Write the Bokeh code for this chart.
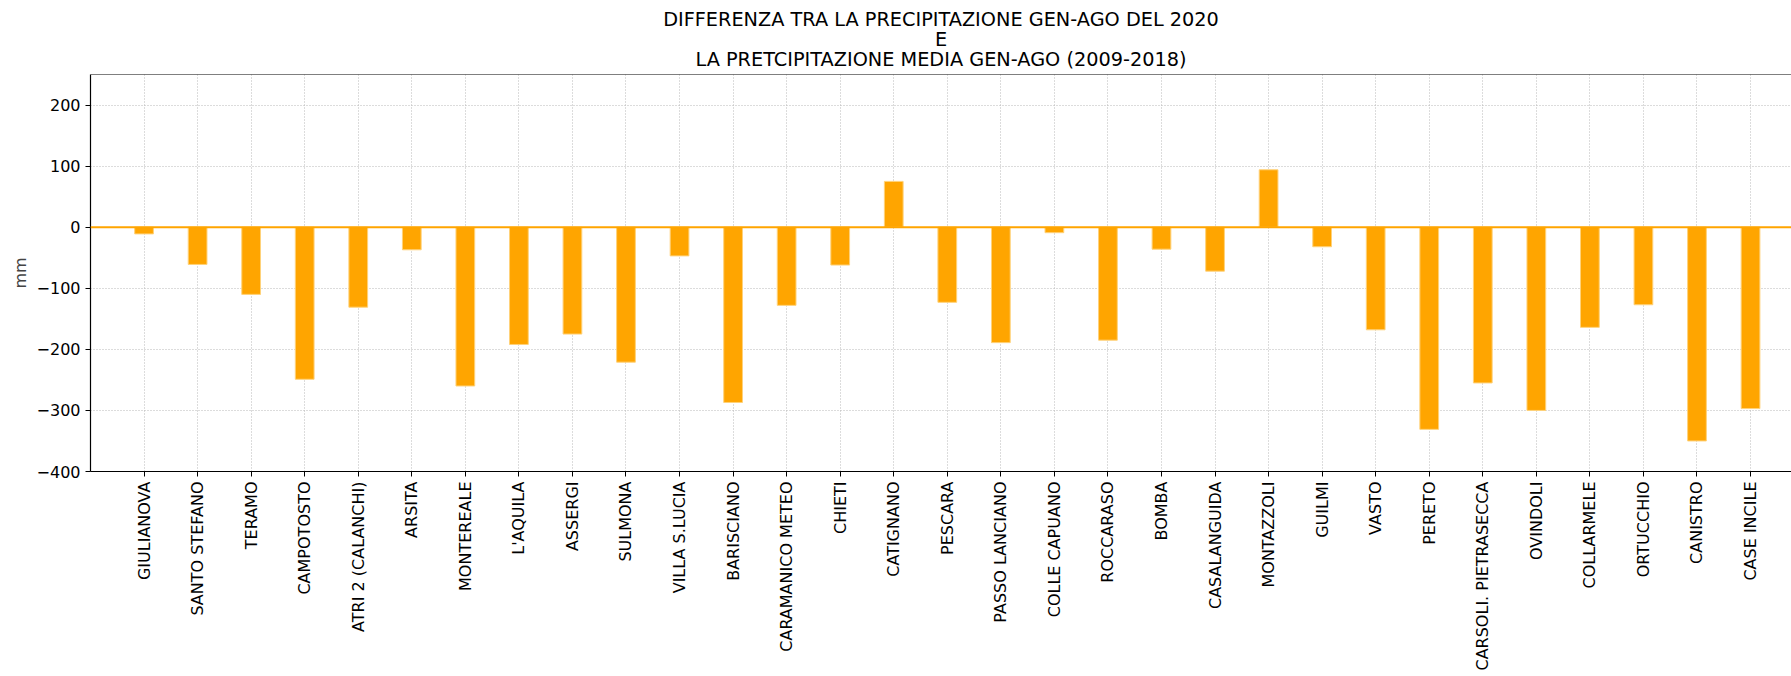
import math
from bokeh.plotting import figure
from bokeh.models import Span, FixedTicker, Range1d, Title
from bokeh.embed import file_html
from bokeh.resources import INLINE

stations = ["GIULIANOVA", "SANTO STEFANO", "TERAMO", "CAMPOTOSTO", "ATRI 2 (CALANCHI)",
            "ARSITA", "MONTEREALE", "L'AQUILA", "ASSERGI", "SULMONA", "VILLA S.LUCIA",
            "BARISCIANO", "CARAMANICO METEO", "CHIETI", "CATIGNANO", "PESCARA",
            "PASSO LANCIANO", "COLLE CAPUANO", "ROCCARASO", "BOMBA", "CASALANGUIDA",
            "MONTAZZOLI", "GUILMI", "VASTO", "PERETO", "CARSOLI. PIETRASECCA", "OVINDOLI",
            "COLLARMELE", "ORTUCCHIO", "CANISTRO", "CASE INCILE"]
diff_mm = [-11, -61, -110, -249, -131, -37, -260, -192, -175, -221, -47,
           -287, -128, -62, 75, -123, -189, -9, -185, -36, -72,
           94, -32, -168, -331, -255, -300, -164, -127, -350, -297]
y_ticks = [-400, -300, -200, -100, 0, 100, 200]
title_lines = ["DIFFERENZA TRA LA PRECIPITAZIONE GEN-AGO DEL 2020",
               "E",
               "LA PRETCIPITAZIONE MEDIA GEN-AGO (2009-2018)"]

FONT = "DejaVu Sans"
W, H = 1791, 676
LEFT, TOP, BOTTOM = 90, 74, 205
n = len(stations)
xs = list(range(n))

p = figure(width=W, height=H, output_backend="svg", toolbar_location=None,
           title=None,
           x_range=Range1d(-1, n - 1 + 0.765), y_range=Range1d(-400, 250),
           min_border_left=LEFT, min_border_right=0, min_border_top=TOP,
           min_border_bottom=BOTTOM)
p.outline_line_color = None

t = Title(text="\n".join(title_lines), align="center", text_font=FONT,
          text_font_size="19.3px", text_font_style="normal",
          text_color="black", text_line_height=0.87, standoff=7, offset=16)
if "text_align" in Title.properties():
    t.text_align = "center"
p.add_layout(t, "above")

p.vbar(x=xs, top=diff_mm, bottom=0, width=0.35, fill_color="#ffa500",
       line_color="#ffd27a", line_width=1)

p.add_layout(Span(location=0, dimension="width", line_color="#ffa500", line_width=2))
p.add_layout(Span(location=250, dimension="width", line_color="black", line_width=1.2))

# x axis
p.xaxis.ticker = FixedTicker(ticks=xs)
p.xaxis.major_label_overrides = {i: s for i, s in enumerate(stations)}
p.xaxis.major_label_orientation = math.pi / 2
p.xaxis.major_label_text_font = FONT
p.xaxis.major_label_text_font_size = "16px"
p.xaxis.major_label_text_color = "black"
p.xaxis.major_label_standoff = 5
p.xaxis.minor_tick_line_color = None
p.xaxis.major_tick_out = 5
p.xaxis.major_tick_in = 0
p.xaxis.axis_line_color = "black"
p.xaxis.axis_line_width = 1.2

# y axis
p.yaxis.ticker = FixedTicker(ticks=y_ticks)
p.yaxis.major_label_overrides = {v: (str(v).replace("-", "\u2212")) for v in y_ticks}
p.yaxis.major_label_text_font = FONT
p.yaxis.major_label_text_font_size = "16px"
p.yaxis.major_label_text_color = "black"
p.yaxis.major_label_standoff = 5
p.yaxis.minor_tick_line_color = None
p.yaxis.major_tick_out = 5
p.yaxis.major_tick_in = 0
p.yaxis.axis_line_color = "black"
p.yaxis.axis_line_width = 1.2
p.yaxis.axis_label = "mm"
p.yaxis.axis_label_text_font = FONT
p.yaxis.axis_label_text_font_size = "16px"
p.yaxis.axis_label_text_font_style = "normal"
p.yaxis.axis_label_standoff = 4

# grid
for g in (p.xgrid, p.ygrid):
    g.grid_line_color = "#b8b8b8"
    g.grid_line_dash = "1 2"
    g.grid_line_width = 1
p.xgrid.ticker = FixedTicker(ticks=xs)
p.ygrid.ticker = FixedTicker(ticks=y_ticks)

open("out.html", "w").write(file_html(p, INLINE))
